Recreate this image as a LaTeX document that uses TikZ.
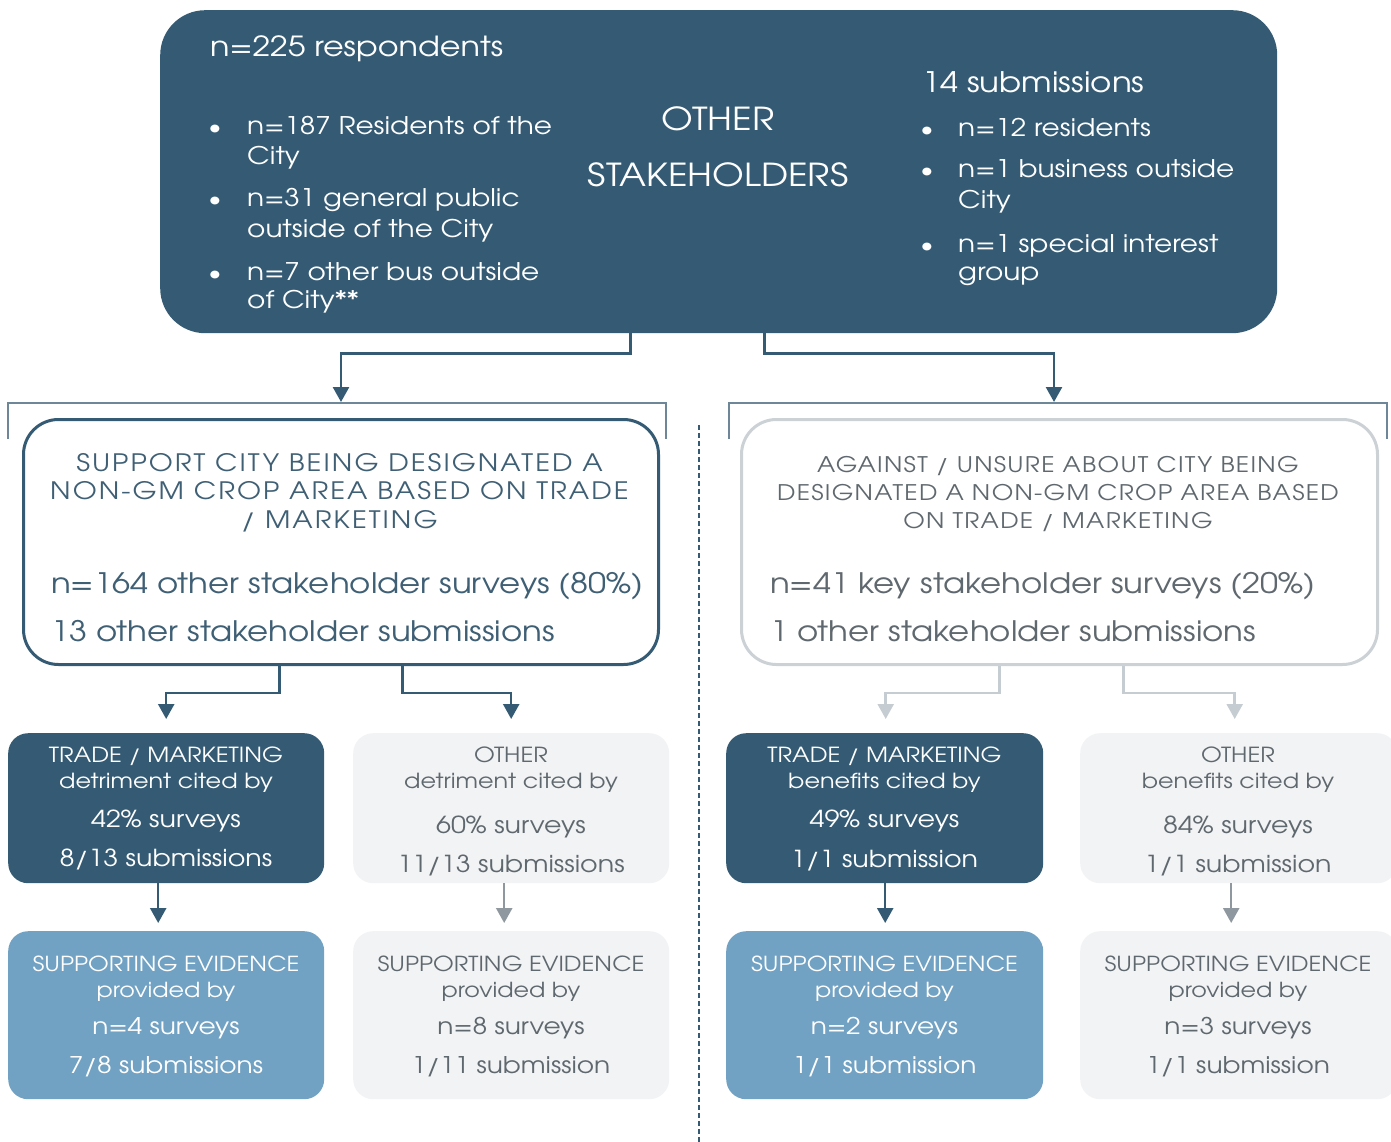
\documentclass[tikz,border=0pt]{standalone}
\usepackage{fontspec}
\setmainfont{TeX Gyre Adventor}[FakeStretch=1.15]
\newfontfamily\hdrfont{TeX Gyre Adventor}[FakeStretch=1.15, LetterSpace=8.5]
\newfontfamily\hdrfontb{TeX Gyre Adventor}[FakeStretch=1.15, LetterSpace=6]
\usetikzlibrary{arrows.meta}

\definecolor{deepblue}{HTML}{355B74}
\definecolor{paleblue}{HTML}{71A2C3}
\definecolor{mist}{HTML}{F2F3F5}
\definecolor{mistedge}{HTML}{CBD1D5}
\definecolor{mistarrow}{HTML}{C6CDD2}
\definecolor{stonearrow}{HTML}{8E989E}
\definecolor{stonetext}{HTML}{5F686E}
\definecolor{bracketline}{HTML}{6D8799}
\definecolor{bluetext}{HTML}{3F5F75}

\newcommand{\fs}[1]{\fontsize{#1}{#1}\selectfont}

\begin{document}
\begin{tikzpicture}[x=1pt,y=-1pt,
  panel/.style={rectangle, inner sep=0pt, anchor=north west},
  tc/.style={inner sep=0pt, anchor=base},
  tl/.style={inner sep=0pt, anchor=base west},
  darkarrow/.style={draw=deepblue, line width=2.5pt, -{Triangle[width=16pt,length=15pt]}},
  mistconn/.style={draw=mistarrow, line width=2.5pt, -{Triangle[width=16pt,length=15pt]}},
  stoneconn/.style={draw=stonearrow, line width=2.5pt, -{Triangle[width=16pt,length=15pt]}},
  bracket/.style={draw=bracketline, line width=1.5pt}]
\useasboundingbox (0,0) rectangle (1391,1142);
\fill[white] (0,0) rectangle (1391,1142);

% ---------- boxes ----------
\node[panel, fill=deepblue, rounded corners=45pt, minimum width=1117pt, minimum height=323pt] (top) at (160,10) {};
\node[panel, draw=deepblue, line width=3pt, fill=white, rounded corners=35pt, minimum width=635pt, minimum height=245pt] (lbox) at (22,418) {};
\node[panel, draw=mistedge, line width=3pt, fill=white, rounded corners=35pt, minimum width=636pt, minimum height=245pt] (rbox) at (740,418) {};

\node[panel, fill=deepblue, rounded corners=20pt, minimum width=316pt, minimum height=150pt] (dl) at (8,733) {};
\node[panel, fill=mist, rounded corners=20pt, minimum width=316pt, minimum height=150pt] (gl) at (353,733) {};
\node[panel, fill=deepblue, rounded corners=20pt, minimum width=317pt, minimum height=150pt] (dr) at (726,733) {};
\node[panel, fill=mist, rounded corners=20pt, minimum width=317pt, minimum height=150pt] (gr) at (1080,733) {};

\node[panel, fill=paleblue, rounded corners=20pt, minimum width=316pt, minimum height=168pt] (el) at (8,931) {};
\node[panel, fill=mist, rounded corners=20pt, minimum width=316pt, minimum height=168pt] (hl) at (353,931) {};
\node[panel, fill=paleblue, rounded corners=20pt, minimum width=317pt, minimum height=168pt] (er) at (726,931) {};
\node[panel, fill=mist, rounded corners=20pt, minimum width=317pt, minimum height=168pt] (hr) at (1080,931) {};

% ---------- brackets and divider ----------
\draw[bracket] (8,439) -- (8,403) -- (666,403) -- (666,439);
\draw[bracket] (729,439) -- (729,403) -- (1387,403) -- (1387,439);
\coordinate (lbrk) at (341,402);
\coordinate (rbrk) at (1054,402);
\draw[deepblue, line width=2.7pt, dash pattern=on 5pt off 3pt] (699,425) -- (699,1142);

% ---------- connectors ----------
\draw[darkarrow] ([xshift=-88pt]top.south) -- ++(0,20) -| (lbrk);
\draw[darkarrow] ([xshift=46pt]top.south) -- ++(0,20) -| (rbrk);

\draw[darkarrow] ([xshift=-61.5pt]lbox.south) -- ++(0,27) -| ([yshift=14pt]dl.north);
\draw[darkarrow] ([xshift=61.5pt]lbox.south) -- ++(0,27) -| ([yshift=14pt]gl.north);
\draw[mistconn] ([xshift=-60pt]rbox.south) -- ++(0,27) -| ([xshift=1pt,yshift=14pt]dr.north);
\draw[mistconn] ([xshift=64pt]rbox.south) -- ++(0,27) -| ([xshift=-4pt,yshift=14pt]gr.north);

\draw[darkarrow] ([xshift=-8pt]dl.south) -- ([xshift=-8pt,yshift=8pt]el.north);
\draw[stoneconn] ([xshift=-7pt]gl.south) -- ([xshift=-7pt,yshift=8pt]hl.north);
\draw[darkarrow] ([xshift=0.5pt]dr.south) -- ([xshift=0.5pt,yshift=8pt]er.north);
\draw[stoneconn] ([xshift=-7.5pt]gr.south) -- ([xshift=-7.5pt,yshift=8pt]hr.north);

% ---------- top panel text ----------
\begin{scope}[text=white]
\node[tl, font=\fs{27.7}] (resp) at (210,57) {n=225 respondents};
\node[tc, font=\fs{22}] (bu1) at (215,135) {\textbullet};
\node[tc, font=\fs{22}] (bu2) at (215,207) {\textbullet};
\node[tc, font=\fs{22}] (bu3) at (215,280) {\textbullet};
\node[tl, font=\fs{24.3}] (ia1) at (247,135) {n=187 Residents of the};
\node[tl, font=\fs{24.3}] (ia2) at (247,165) {City};
\node[tl, font=\fs{24.3}] (ib1) at (247,207) {n=31 general public};
\node[tl, font=\fs{24.3}] (ib2) at (247,237) {outside of the City};
\node[tl, font=\fs{24.3}] (ic1) at (247,280) {n=7 other bus outside};
\node[tl, font=\fs{24.3}] (ic2) at (247,308) {of City**};

\node[tc, font=\fs{31.7}] (oth) at (718,131) {OTHER};
\node[tc, font=\fs{31.7}] (stk) at (718,186) {STAKEHOLDERS};

\node[tl, font=\fs{28.3}] (subm) at (922,93) {14 submissions};
\node[tc, font=\fs{22}] (bv1) at (927,137) {\textbullet};
\node[tc, font=\fs{22}] (bv2) at (927,178) {\textbullet};
\node[tc, font=\fs{22}] (bv3) at (927,252) {\textbullet};
\node[tl, font=\fs{24.3}] (ja1) at (958,137) {n=12 residents};
\node[tl, font=\fs{24.3}] (jb1) at (958,178) {n=1 business outside};
\node[tl, font=\fs{24.3}] (jb2) at (958,208) {City};
\node[tl, font=\fs{24.3}] (jc1) at (958,252) {n=1 special interest};
\node[tl, font=\fs{24.3}] (jc2) at (958,280) {group};
\end{scope}

% ---------- middle boxes text ----------
\begin{scope}[text=bluetext]
\node[tc, font=\hdrfont\fs{24}] (sa1) at (339.5,471) {SUPPORT CITY BEING DESIGNATED A};
\node[tc, font=\hdrfont\fs{24}] (sa2) at (339.5,499) {NON-GM CROP AREA BASED ON TRADE};
\node[tc, font=\hdrfont\fs{24}] (sa3) at (339.5,528) {/ MARKETING};
\node[tl, font=\fs{28.2}] (sb1) at (51,593) {n=164 other stakeholder surveys (80\%)};
\node[tl, font=\fs{28.2}] (sb2) at (51,641) {13 other stakeholder submissions};
\end{scope}
\begin{scope}[text=stonetext]
\node[tc, font=\hdrfontb\fs{21.5}] (aa1) at (1058,472) {AGAINST / UNSURE ABOUT CITY BEING};
\node[tc, font=\hdrfontb\fs{21.5}] (aa2) at (1058,500) {DESIGNATED A NON-GM CROP AREA BASED};
\node[tc, font=\hdrfontb\fs{21.5}] (aa3) at (1058,528) {ON TRADE / MARKETING};
\node[tl, font=\fs{28.2}] (ab1) at (770,593) {n=41 key stakeholder surveys (20\%)};
\node[tl, font=\fs{28.2}] (ab2) at (770,641) {1 other stakeholder submissions};
\end{scope}

% ---------- second row text ----------
\begin{scope}[text=white]
\node[tc, font=\fs{20.8}] (dl1) at (166,762) {TRADE / MARKETING};
\node[tc, font=\fs{20.8}] (dl2) at (166,788) {detriment cited by};
\node[tc, font=\fs{23.4}] (dl3) at (166,827) {42\% surveys};
\node[tc, font=\fs{23.4}] (dl4) at (166,866) {8/13 submissions};
\node[tc, font=\fs{20.8}] (dr1) at (884.5,762) {TRADE / MARKETING};
\node[tc, font=\fs{20.8}] (dr2) at (884.5,788) {benefits cited by};
\node[tc, font=\fs{23.4}] (dr3) at (884.5,827) {49\% surveys};
\node[tc, font=\fs{23.4}] (dr4) at (884.5,867) {1/1 submission};
\end{scope}
\begin{scope}[text=stonetext]
\node[tc, font=\fs{20.8}] (gl1) at (511,762) {OTHER};
\node[tc, font=\fs{20.8}] (gl2) at (511,788) {detriment cited by};
\node[tc, font=\fs{23.4}] (gl3) at (511,833) {60\% surveys};
\node[tc, font=\fs{23.4}] (gl4) at (511,872) {11/13 submissions};
\node[tc, font=\fs{20.8}] (gr1) at (1238,762) {OTHER};
\node[tc, font=\fs{20.8}] (gr2) at (1238,788) {benefits cited by};
\node[tc, font=\fs{23.4}] (gr3) at (1238,833) {84\% surveys};
\node[tc, font=\fs{23.4}] (gr4) at (1238,872) {1/1 submission};
\end{scope}

% ---------- third row text ----------
\begin{scope}[text=white]
\node[tc, font=\fs{20.7}] (el1) at (166,971) {SUPPORTING EVIDENCE};
\node[tc, font=\fs{20.7}] (el2) at (166,997) {provided by};
\node[tc, font=\fs{23}] (el3) at (166,1034) {n=4 surveys};
\node[tc, font=\fs{23}] (el4) at (166,1073) {7/8 submissions};
\node[tc, font=\fs{20.7}] (er1) at (884.5,971) {SUPPORTING EVIDENCE};
\node[tc, font=\fs{20.7}] (er2) at (884.5,997) {provided by};
\node[tc, font=\fs{23}] (er3) at (884.5,1034) {n=2 surveys};
\node[tc, font=\fs{23}] (er4) at (884.5,1073) {1/1 submission};
\end{scope}
\begin{scope}[text=stonetext]
\node[tc, font=\fs{20.7}] (hl1) at (511,971) {SUPPORTING EVIDENCE};
\node[tc, font=\fs{20.7}] (hl2) at (511,997) {provided by};
\node[tc, font=\fs{23}] (hl3) at (511,1034) {n=8 surveys};
\node[tc, font=\fs{23}] (hl4) at (511,1073) {1/11 submission};
\node[tc, font=\fs{20.7}] (hr1) at (1238,971) {SUPPORTING EVIDENCE};
\node[tc, font=\fs{20.7}] (hr2) at (1238,997) {provided by};
\node[tc, font=\fs{23}] (hr3) at (1238,1034) {n=3 surveys};
\node[tc, font=\fs{23}] (hr4) at (1238,1073) {1/1 submission};
\end{scope}
\end{tikzpicture}
\end{document}
